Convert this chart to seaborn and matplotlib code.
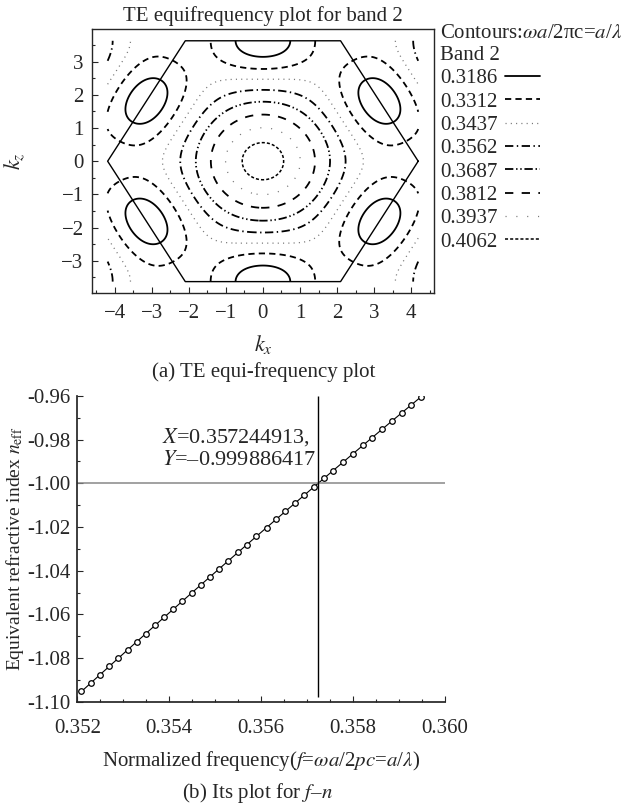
import numpy as np
import pandas as pd
import matplotlib
matplotlib.use("Agg")
import matplotlib.pyplot as plt
import seaborn as sns
from matplotlib.lines import Line2D
from matplotlib.ticker import MultipleLocator, FormatStrFormatter

sns.set_theme(style="ticks")
plt.rcParams["font.family"] = ["Liberation Serif", "DejaVu Serif"]
plt.rcParams["mathtext.fontset"] = "stix"
plt.rcParams["lines.scale_dashes"] = False

# (a) band 2 contour levels (omega a / 2 pi c)
levels = [0.3186, 0.3312, 0.3437, 0.3562, 0.3687, 0.3812, 0.3937, 0.4062]

# where the contours cross the Gamma-M line (kx = 0)
gm_levels = [0.3186, 0.3312, 0.3437, 0.3562, 0.3687, 0.3812, 0.3937, 0.4062]
gm_kz = [3.20, 2.77, 2.47, 2.12, 1.77, 1.42, 0.92, 0.52]
# ... the Gamma-K line (kz = 0)
gk_levels = [0.3437, 0.3562, 0.3687, 0.3812, 0.3937, 0.4062]
gk_kx = [2.72, 2.27, 1.81, 1.38, 1.10, 0.62]
# ... the top zone edge (kz = 2pi/sqrt3)
edge_levels = [0.3186, 0.3312]
edge_kx = [0.88, 1.45]
# estimated band values at M and K
f_M = 0.312
f_K = 0.338

# (b) normalized frequency vs equivalent index
freq = [0.35209, 0.35230, 0.35249, 0.35270, 0.35289, 0.35310, 0.35329, 0.35349,
        0.35369, 0.35389, 0.35409, 0.35429, 0.35449, 0.35469, 0.35489, 0.35509,
        0.35529, 0.35550, 0.35569, 0.35590, 0.35612, 0.35633, 0.35653, 0.35674,
        0.35694, 0.35716, 0.35737, 0.35757, 0.35779, 0.35800, 0.35822, 0.35842,
        0.35863, 0.35885, 0.35906, 0.35927, 0.35948]
neff = [-1.09520, -1.09121, -1.08760, -1.08363, -1.08004, -1.07609, -1.07252, -1.06877,
        -1.06502, -1.06129, -1.05757, -1.05386, -1.05015, -1.04645, -1.04277, -1.03909,
        -1.03542, -1.03157, -1.02810, -1.02427, -1.02028, -1.01647, -1.01286, -1.00907,
        -1.00547, -1.00152, -0.99776, -0.99419, -0.99028, -0.98655, -0.98265, -0.97912,
        -0.97542, -0.97155, -0.96787, -0.96420, -0.96054]
x_cross = 0.357244913
y_cross = -0.999886417

# ---- band surface: fit a hexagonal Fourier series to the read-off points
kz_edge = 2 * np.pi / np.sqrt(3)
k_K = 4 * np.pi / 3
pts = ([(0.0, z) for z in gm_kz] + [(x, 0.0) for x in gk_kx]
       + [(x, kz_edge) for x in edge_kx] + [(0.0, kz_edge), (k_K, 0.0)])
vals = np.array(gm_levels + gk_levels + edge_levels + [f_M, f_K])

a1 = np.array([1.0, 0.0])
a2 = np.array([0.5, np.sqrt(3) / 2])
shells = {}
for i in range(-5, 6):
    for j in range(-5, 6):
        r = i * a1 + j * a2
        d2 = round(float(r @ r), 3)
        if 0 < d2 <= 9.01:
            shells.setdefault(d2, []).append(r)
shell_vecs = [np.array(shells[d]) for d in sorted(shells)]


def basis(kx, kz):
    kx = np.asarray(kx, float)
    kz = np.asarray(kz, float)
    cols = [np.ones_like(kx)]
    for R in shell_vecs:
        cols.append(sum(np.cos(kx * r[0] + kz * r[1]) for r in R))
    return np.stack(cols, axis=-1)


pk = np.array(pts)
coef, *_ = np.linalg.lstsq(basis(pk[:, 0], pk[:, 1]), vals, rcond=None)

KX, KZ = np.meshgrid(np.linspace(-k_K, k_K, 341), np.linspace(-kz_edge, kz_edge, 301))
Z = basis(KX, KZ) @ coef

styles = [
    dict(color="black", lw=1.3, ls="-"),
    dict(color="black", lw=1.3, ls=(0, (4.5, 3))),
    dict(color="#777777", lw=0.9, ls=(0, (0.8, 3))),
    dict(color="black", lw=1.3, ls=(0, (6, 2.5, 1, 2.5))),
    dict(color="black", lw=1.3, ls=(0, (6, 2, 1, 2, 1, 2))),
    dict(color="black", lw=1.3, ls=(0, (6, 6))),
    dict(color="#777777", lw=0.9, ls=(0, (0.8, 7))),
    dict(color="black", lw=1.1, ls=(0, (2.2, 1.5))),
]

fig = plt.figure(figsize=(6.26, 8.08), dpi=100)

# ---------------- (a)
ax1 = fig.add_axes([0.147, 0.637, 0.546, 0.327])
handles = []
for lev, st in zip(levels, styles):
    cs = ax1.contour(KX, KZ, Z, levels=[lev], colors=st["color"], linewidths=st["lw"])
    cs.set_linestyle(st["ls"])
    handles.append(Line2D([], [], color=st["color"], lw=st["lw"], ls=st["ls"]))

hex_ang = np.radians(np.arange(0, 361, 60))
sns.lineplot(x=k_K * np.cos(hex_ang), y=k_K * np.sin(hex_ang), ax=ax1,
             color="black", lw=1.0, sort=False, estimator=None)

ax1.set_xlim(-4.61, 4.61)
ax1.set_ylim(-3.98, 3.98)
ax1.xaxis.set_major_locator(MultipleLocator(1))
ax1.xaxis.set_minor_locator(MultipleLocator(0.5))
ax1.yaxis.set_major_locator(MultipleLocator(1))
ax1.yaxis.set_minor_locator(MultipleLocator(0.5))
ax1.tick_params(which="both", direction="in", labelsize=15, width=0.8)
ax1.tick_params(axis="x", pad=8)
ax1.tick_params(axis="y", pad=6)
ax1.tick_params(which="major", length=4)
ax1.tick_params(which="minor", length=2.5)
for sp in ax1.spines.values():
    sp.set_linewidth(1.0)
ax1.set_title("TE equifrequency plot for band 2", fontsize=15, pad=6)
ax1.set_xlabel("$k_x$", fontsize=16, labelpad=7)
ax1.set_ylabel("$k_z$", fontsize=16)
ax1.yaxis.set_label_coords(-0.19, 0.5)

leg = ax1.legend(handles, [f"{v:.4f}" for v in levels],
                 title="Contours:$\\omega a$/2πc=$a$/$\\lambda$\nBand 2",
                 loc="upper left", bbox_to_anchor=(0.703, 0.970), bbox_transform=fig.transFigure,
                 frameon=False, markerfirst=False, fontsize=15, title_fontsize=15,
                 handlelength=1.7, handletextpad=0.35, labelspacing=0.18,
                 borderpad=0, borderaxespad=0, alignment="left")

fig.text(0.422, 1 - 372 / 808, "(a) TE equi-frequency plot", ha="center", va="center", fontsize=15)

# ---------------- (b)
ax2 = fig.add_axes([0.1235, 0.1312, 0.587, 0.379])
df = pd.DataFrame({"f": freq, "n": neff})
sns.lineplot(data=df, x="f", y="n", ax=ax2, color="black", lw=0.8, marker="o",
             markersize=4, markerfacecolor="white", markeredgecolor="black",
             markeredgewidth=0.9)
ax2.axhline(y_cross, color="#888888", lw=1.1)
ax2.vlines(x_cross, -1.0977, -0.96, color="black", lw=1.0)
ax2.text(0.2295, 0.866, f"$X$={x_cross},", transform=ax2.transAxes,
         fontsize=16, va="center", ha="left")
ax2.text(0.2295, 0.79, f"$Y$=–{abs(y_cross)}", transform=ax2.transAxes,
         fontsize=16, va="center", ha="left")

ax2.set_xlim(0.352, 0.360)
ax2.set_ylim(-1.10, -0.96)
ax2.xaxis.set_major_locator(MultipleLocator(0.002))
ax2.xaxis.set_minor_locator(MultipleLocator(0.0005))
ax2.yaxis.set_major_locator(MultipleLocator(0.02))
ax2.yaxis.set_minor_locator(MultipleLocator(0.01))
ax2.xaxis.set_major_formatter(FormatStrFormatter("%.3f"))
ax2.yaxis.set_major_formatter(FormatStrFormatter("%.2f"))
ax2.tick_params(which="both", direction="in", labelsize=15, width=0.8)
ax2.tick_params(axis="x", pad=12)
ax2.tick_params(axis="y", pad=5)
ax2.tick_params(which="major", length=4)
ax2.tick_params(which="minor", length=2.5)
sns.despine(ax=ax2)
ax2.set_xlabel("Normalized frequency($f$=$\\omega a$/2$pc$=$a$/$\\lambda$)", fontsize=15, labelpad=8)
ax2.set_ylabel("Equivalent refractive index $n_{\\rm eff}$", fontsize=14)
ax2.yaxis.set_label_coords(-0.14, 0.5)

fig.text(0.412, 1 - 793 / 808, "(b) Its plot for $f$–$n$", ha="center", va="center", fontsize=15)

fig.savefig("out.png", dpi=100)
